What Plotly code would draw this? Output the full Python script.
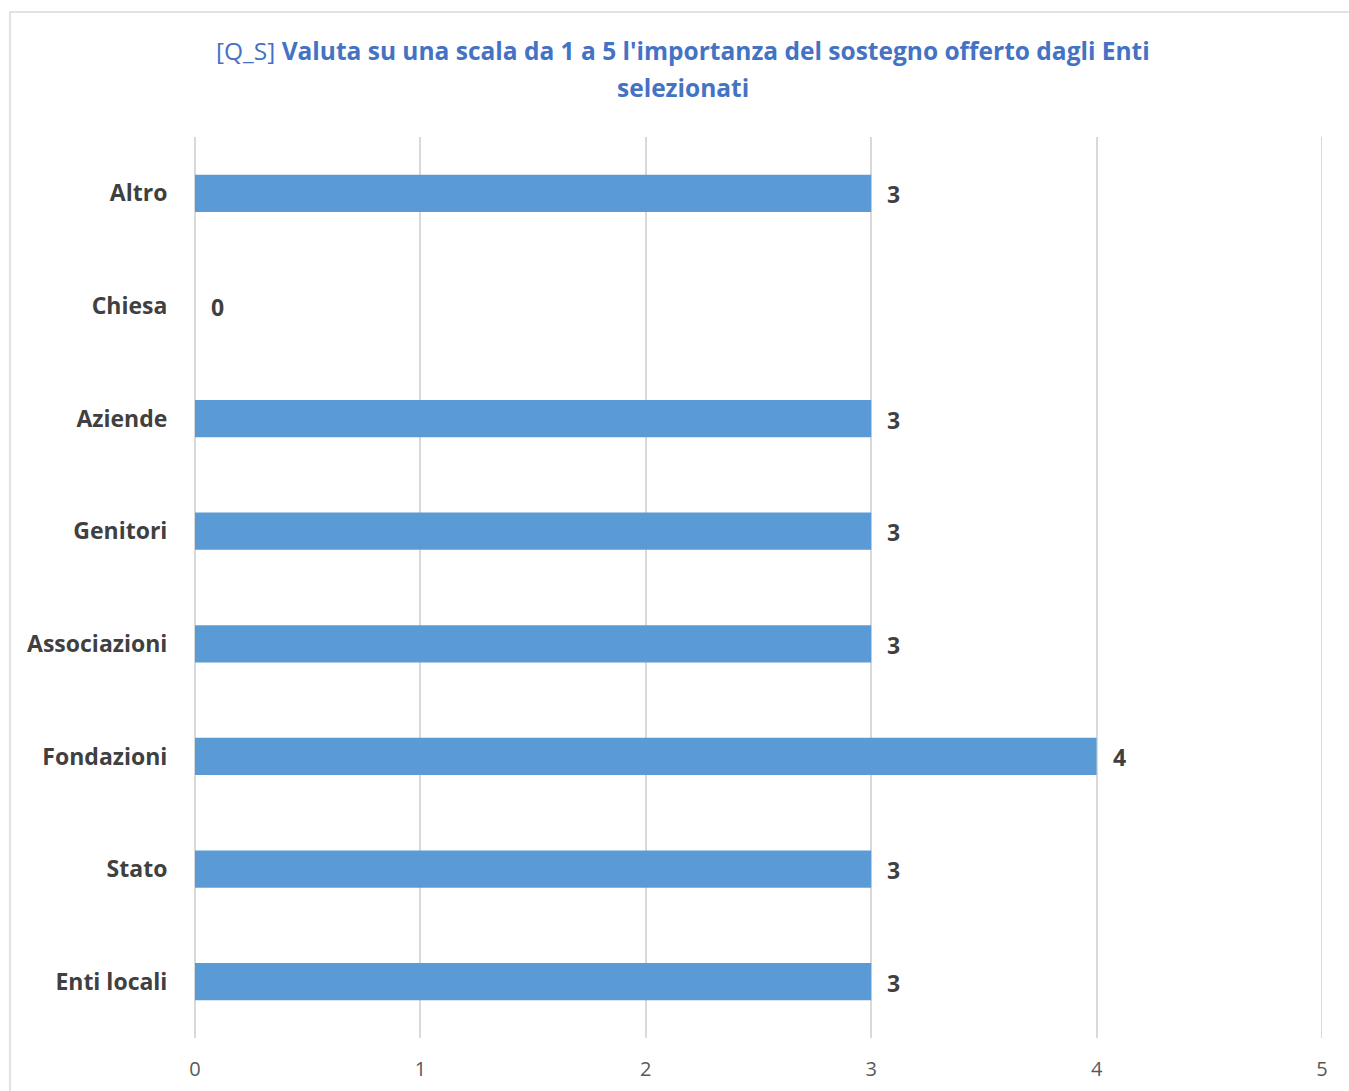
import plotly.graph_objects as go

# Categories listed bottom-to-top as they appear on the axis
categories = ["Enti locali", "Stato", "Fondazioni", "Associazioni",
              "Genitori", "Aziende", "Chiesa", "Altro"]
values = [3, 3, 4, 3, 3, 3, 0, 3]
x_ticks = [0, 1, 2, 3, 4, 5]
title_lines = [
    "[Q_S] <b>Valuta su una scala da 1 a 5 l'importanza del sostegno offerto dagli Enti</b>",
    "<b>selezionati</b>",
]

W, H = 1349, 1091
L, R, T, B = 195, 27, 137, 53
pw, ph = W - L - R, H - T - B

BAR = "#5B9BD5"
GRID = "#D9D9D9"
DARK = "#404040"
FONT = "Open Sans"


def px_x(p):
    return (p - L) / pw


def px_y(p):
    return (H - B - p) / ph


fig = go.Figure()
fig.add_trace(go.Bar(
    x=values, y=categories, orientation="h",
    marker=dict(color=BAR, line=dict(width=0)),
    width=0.33, hoverinfo="x+y",
))

# value labels to the right of each bar end
for v, c in zip(values, categories):
    fig.add_annotation(x=v, y=c, text=f"<b>{v}</b>", showarrow=False,
                       xanchor="left", yanchor="middle", xshift=14, yshift=-1,
                       font=dict(family=FONT, size=23, color=DARK))

# two-line title, centred on the chart frame
for line, yc in zip(title_lines, [50, 87]):
    fig.add_annotation(x=px_x(683), y=px_y(yc), xref="paper", yref="paper",
                       text=line, showarrow=False, xanchor="center",
                       yanchor="middle",
                       font=dict(family=FONT, size=24.5, color="#4472C4"))

# outer chart frame
fig.add_shape(type="rect", xref="paper", yref="paper",
              x0=px_x(10), x1=px_x(1357), y0=px_y(1100), y1=px_y(12),
              line=dict(color=GRID, width=1.5), fillcolor="rgba(0,0,0,0)",
              layer="below")

# gridline at the right edge of the axis range
fig.add_shape(type="line", xref="x", yref="paper",
              x0=x_ticks[-1], x1=x_ticks[-1], y0=0, y1=1,
              line=dict(color=GRID, width=2), layer="below")

fig.update_layout(
    width=W, height=H,
    margin=dict(l=L, r=R, t=T, b=B),
    paper_bgcolor="white", plot_bgcolor="white",
    showlegend=False,
    xaxis=dict(
        range=[0, 5], tickvals=x_ticks, ticktext=[str(t) for t in x_ticks],
        automargin=False,
        showgrid=True, gridcolor=GRID, gridwidth=2,
        zeroline=True, zerolinecolor=GRID, zerolinewidth=2,
        showline=False, ticks="outside", ticklen=13,
        tickcolor="rgba(0,0,0,0)",
        tickfont=dict(family=FONT, size=20, color="#595959"),
    ),
    yaxis=dict(
        categoryorder="array", categoryarray=categories,
        range=[-0.5, 7.5], automargin=False,
        showgrid=False, zeroline=False, showline=False, ticks="outside",
        ticklen=22, tickcolor="rgba(0,0,0,0)",
        tickfont=dict(family=FONT, size=23, color=DARK),
        tickprefix="<b>", ticksuffix="</b>",
    ),
)

fig.write_html("out.html")
